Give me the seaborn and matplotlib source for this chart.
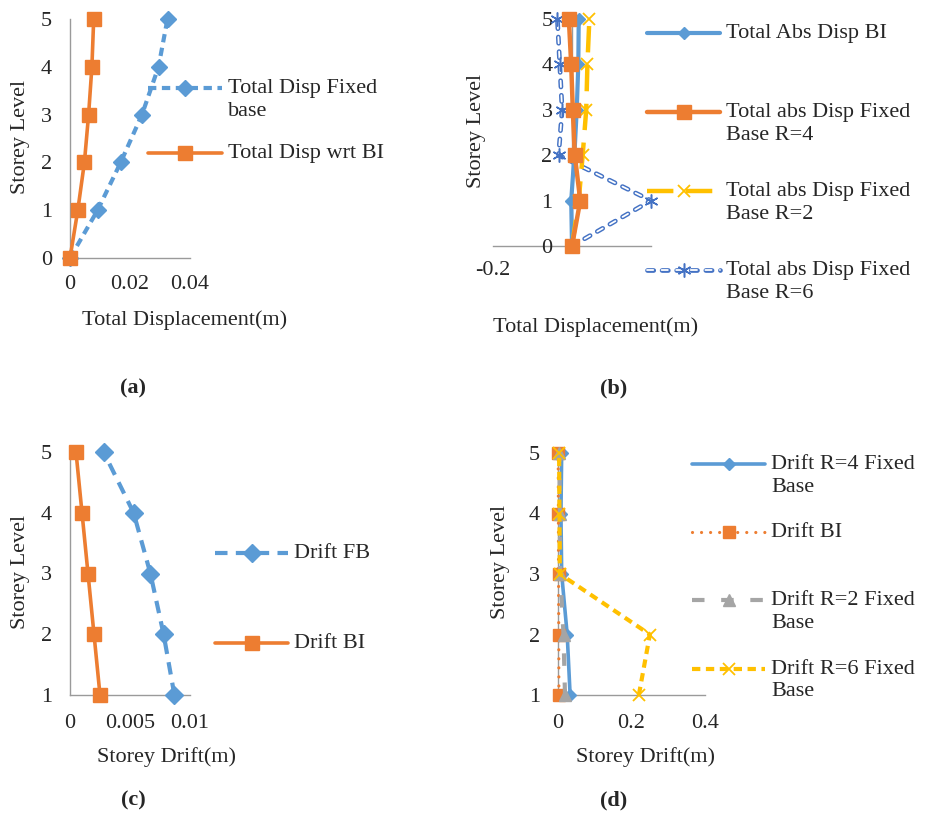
import matplotlib
matplotlib.use("Agg")
import matplotlib.pyplot as plt
import seaborn as sns
from matplotlib.legend_handler import HandlerTuple

# ---------------- data ----------------
levels_ab = [0, 1, 2, 3, 4, 5]
a_fixed = [0.0, 0.0092, 0.0169, 0.0240, 0.0295, 0.0325]
a_bi = [0.0, 0.0026, 0.0048, 0.0062, 0.0073, 0.0079]
a_labels = ["Total Disp Fixed\nbase", "Total Disp wrt BI"]

b_bi = [0.0, -0.002, 0.006, 0.012, 0.016, 0.017]
b_r4 = [0.0, 0.021, 0.007, 0.002, -0.002, -0.008]
b_r2 = [0.0, 0.017, 0.027, 0.036, 0.039, 0.044]
b_r6 = [0.0, 0.200, -0.034, -0.025, -0.031, -0.037]
b_labels = ["Total Abs Disp BI\n ", "Total abs Disp Fixed\nBase R=4",
            "Total abs Disp Fixed\nBase R=2", "Total abs Disp Fixed\nBase R=6"]

levels_cd = [1, 2, 3, 4, 5]
c_fb = [0.0087, 0.0078, 0.0067, 0.0053, 0.0028]
c_bi = [0.0025, 0.0020, 0.0015, 0.0010, 0.0005]
c_labels = ["Drift FB", "Drift BI"]

d_r4 = [0.033, 0.025, 0.010, 0.008, 0.010]
d_bi = [0.0025, 0.0020, 0.0015, 0.0010, 0.0005]
d_r2 = [0.019, 0.015, 0.006, 0.005, 0.004]
d_r6 = [0.220, 0.250, 0.005, 0.004, 0.003]
d_labels = ["Drift R=4 Fixed\nBase", "Drift BI\n ", "Drift R=2 Fixed\nBase",
            "Drift R=6 Fixed\nBase"]

ticks_a_x = [0, 0.02, 0.04]
ticks_b_x = [-0.2]
ticks_c_x = [0, 0.005, 0.01]
ticks_d_x = [0, 0.2, 0.4]

# ---------------- style ----------------
sns.set_style("white")
plt.rcParams["font.family"] = ["Liberation Serif", "DejaVu Serif"]
plt.rcParams["lines.scale_dashes"] = False
FS = 16
BLUE, ORANGE, GRAY, YELLOW, DBLUE = "#5B9BD5", "#ED7D31", "#A5A5A5", "#FFC000", "#4472C4"
AXC = "#9A9A9A"

W, H = 930, 817
fig = plt.figure(figsize=(W / 100, H / 100), dpi=100)


def add_ax(l, r, t, b):
    return fig.add_axes([l / W, 1 - b / H, (r - l) / W, (b - t) / H])


def style(ax, xlim, ylim, xticks, yticks, xpad, ypad, xlabel, ylabel, xl_pos, yl_pos):
    ax.set_xlim(*xlim)
    ax.set_ylim(*ylim)
    ax.set_xticks(xticks)
    ax.set_xticklabels([("%g" % v) for v in xticks])
    ax.set_yticks(yticks)
    ax.set_yticklabels([str(v) for v in yticks])
    for s in ["top", "right"]:
        ax.spines[s].set_visible(False)
    for s in ["left", "bottom"]:
        ax.spines[s].set_color(AXC)
        ax.spines[s].set_linewidth(1.0)
        ax.spines[s].set_zorder(0.5)
    ax.tick_params(axis="x", length=0, labelsize=FS, pad=xpad)
    ax.tick_params(axis="y", length=0, labelsize=FS, pad=ypad)
    ax.set_facecolor("none")
    ax.grid(False)
    ax.set_xlabel(xlabel, fontsize=FS)
    ax.set_ylabel(ylabel, fontsize=FS)
    ax.xaxis.set_label_coords(xl_pos[0] / W, 1 - xl_pos[1] / H, transform=fig.transFigure)
    ax.xaxis.label.set_va("center")
    ax.yaxis.set_label_coords(yl_pos[0] / W, 1 - yl_pos[1] / H, transform=fig.transFigure)
    ax.yaxis.label.set_va("center")


def line(ax, x, y, color, lw, marker, ms, dashes=None, mec=None, mfc=None, mew=1.0,
         capstyle="butt", zorder=2):
    sns.lineplot(x=x, y=y, orient="y", estimator=None, errorbar=None, ax=ax,
                 color=color, lw=lw, marker=marker, markersize=ms,
                 markeredgecolor=mec if mec else color,
                 markerfacecolor=mfc if mfc else color,
                 markeredgewidth=mew, clip_on=False, zorder=zorder)
    ln = ax.lines[-1]
    if dashes is not None:
        ln.set_dashes(dashes)
    ln.set_dash_capstyle(capstyle)
    ln.set_solid_capstyle("round")
    return ln


def legend(ax, handles, labels, x, y, hl_px, pad_px, spacing):
    leg = ax.legend(handles, labels, loc="upper left",
                    bbox_to_anchor=(x / W, 1 - y / H), bbox_transform=fig.transFigure,
                    frameon=False, fontsize=FS, handlelength=hl_px / (FS * 100 / 72),
                    handletextpad=pad_px / (FS * 100 / 72), labelspacing=spacing,
                    borderpad=0, borderaxespad=0, numpoints=1, handleheight=1.1,
                    handler_map={tuple: HandlerTuple(ndivide=1, pad=0)})
    for col in leg._legend_handle_box.get_children():
        for item in col.get_children():
            item.align = "top"
    for t in leg.get_texts():
        t.set_linespacing(1.25)
    return leg


# ---------------- (a) ----------------
ax = add_ax(70, 190, 19, 258)
la1 = line(ax, a_fixed, levels_ab, BLUE, 3.0, "D", 8.5, dashes=(6, 4), zorder=2)
la2 = line(ax, a_bi, levels_ab, ORANGE, 2.6, "s", 10, zorder=3)
style(ax, (0, 0.04), (0, 5), ticks_a_x, levels_ab, 12.5, 13, "Total Displacement(m)",
      "Storey Level", (185, 320), (20, 137))
legend(ax, [la1, la2], a_labels, 148, 79, 74, 6, 1.04)

# ---------------- (b) ----------------
ax = add_ax(493, 651, 19, 246)
lb1 = line(ax, b_bi, levels_ab, BLUE, 3.0, "D", 6, zorder=3)
lb2 = line(ax, b_r4, levels_ab, ORANGE, 3.2, "s", 10, zorder=4)
lb3 = line(ax, b_r2, levels_ab, YELLOW, 3.2, "x", 9, dashes=(19, 9), mew=1.3, zorder=3)
lb4a = line(ax, b_r6, levels_ab, DBLUE, 3.4, None, 0, dashes=(4.5, 6), capstyle="round",
            zorder=2)
lb4b = line(ax, b_r6, levels_ab, "white", 1.3, None, 0, dashes=(4.5, 6),
            capstyle="round", zorder=2.1)
lb4c = line(ax, b_r6, levels_ab, DBLUE, 0, (6, 2, 0), 10, mew=1.1, zorder=2.2)
ax.spines["left"].set_position(("data", 0))
style(ax, (-0.2, 0.2), (0, 5), ticks_b_x, levels_ab, 11, 14, "Total Displacement(m)",
      "Storey Level", (596, 327), (476, 131))
legend(ax, [lb1, lb2, lb3, (lb4a, lb4b, lb4c)], b_labels, 647, 24, 73, 6, 1.69)

# ---------------- (c) ----------------
ax = add_ax(70, 190, 452, 695)
lc1 = line(ax, c_fb, levels_cd, BLUE, 3.0, "D", 9, dashes=(9, 6), zorder=2)
lc2 = line(ax, c_bi, levels_cd, ORANGE, 2.6, "s", 10, zorder=3)
style(ax, (0, 0.01), (1, 5), ticks_c_x, levels_cd, 14, 13, "Storey Drift(m)",
      "Storey Level", (166, 757), (20, 572))
legend(ax, [lc1, lc2], c_labels, 215, 544, 73, 6, 3.08)

# ---------------- (d) ----------------
ax = add_ax(558, 705, 453, 695)
ld1 = line(ax, d_r4, levels_cd, BLUE, 2.6, "D", 6, zorder=2)
ld2 = line(ax, d_bi, levels_cd, ORANGE, 2.3, "s", 9, dashes=(0.01, 6.5),
           capstyle="round", zorder=3)
ld3 = line(ax, d_r2, levels_cd, GRAY, 3.0, "^", 9, dashes=(9, 12), zorder=4)
ld4 = line(ax, d_r6, levels_cd, YELLOW, 3.0, "x", 9, dashes=(6, 4), mew=1.3, zorder=5)
style(ax, (0, 0.4), (1, 5), ticks_d_x, levels_cd, 14, 13, "Storey Drift(m)",
      "Storey Level", (646, 757), (500, 562))
legend(ax, [ld1, ld2, ld3, ld4], d_labels, 692, 455, 73, 6, 1.2)

# ---------------- panel captions ----------------
for txt, px, py in [("(a)", 133, 388), ("(b)", 614, 388), ("(c)", 133, 800), ("(d)", 614, 800)]:
    fig.text(px / W, 1 - py / H, txt, fontsize=FS, fontweight="bold", ha="center", va="center")

fig.savefig("out.png", dpi=100, facecolor="white")
